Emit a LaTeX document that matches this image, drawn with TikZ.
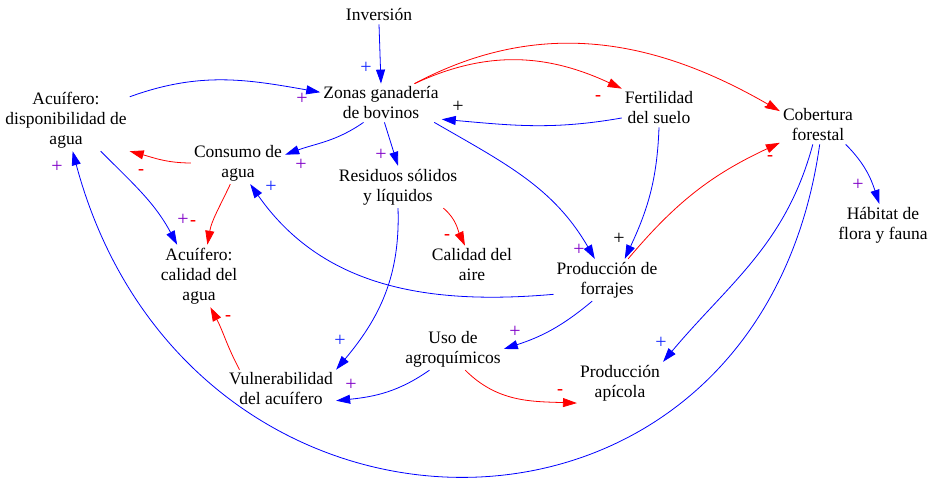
\documentclass[tikz,border=0pt]{standalone}
\usepackage{fontspec}
\setmainfont{Liberation Serif}
\usetikzlibrary{arrows.meta}
\definecolor{lnblue}{RGB}{0,0,255}
\definecolor{lnred}{RGB}{255,0,0}
\definecolor{plusv}{RGB}{128,0,200}
\definecolor{plusb}{RGB}{20,40,255}
\begin{document}
\begin{tikzpicture}[x=1pt,y=1pt,
  var/.style={font=\fontsize{17.5}{20}\selectfont, align=center, inner sep=3pt, text=black},
  lk/.style={line width=0.8pt, -{Triangle[length=14pt,width=9pt]}},
  pl/.style={lk, color=lnblue},
  mi/.style={lk, color=lnred},
  sg/.style={font=\fontsize{20}{22}\selectfont, inner sep=0pt},
  sgb/.style={sg, text=plusb},
  sgv/.style={sg, text=plusv},
  sgk/.style={sg, text=black},
  sgm/.style={sg, text=lnred, font=\fontsize{18}{20}\selectfont\bfseries},
]
\fill[white] (0,0) rectangle (940,494);
\useasboundingbox (0,0) rectangle (940,494);

% variables
\node[var] (inv) at (379,479) {Inversión};
\node[var] (zonas) at (381,391) {Zonas ganadería\\de bovinos};
\node[var] (acd) at (66,374) {Acuífero:\\disponibilidad de\\agua};
\node[var] (cons) at (238,331) {Consumo de\\agua};
\node[var] (res) at (398,307) {Residuos sólidos\\y líquidos};
\node[var] (fert) at (659,386) {Fertilidad\\del suelo};
\node[var] (cob) at (818,369) {Cobertura\\forestal};
\node[var] (hab) at (883,269) {Hábitat de\\flora y fauna};
\node[var] (acal) at (199,218) {Acuífero:\\calidad del\\agua};
\node[var] (air) at (472,229) {Calidad del\\aire};
\node[var] (prodf) at (607,214) {Producción de\\forrajes};
\node[var] (uso) at (453,145) {Uso de\\agroquímicos};
\node[var] (apic) at (620,111) {Producción\\apícola};
\node[var] (vul) at (281,105) {Vulnerabilidad\\del acuífero};

% links
\draw[pl] (inv.south) -- (zonas.north);
\draw[pl] (acd.20) to[out=20, in=170] (zonas.170);
\draw[mi] (zonas.30) to[out=25, in=155] (fert.north west);
\draw[mi] (zonas.30) to[out=28, in=150] (cob.160);
\draw[pl] (fert.195) to[out=190, in=-5] (zonas.345);
\draw[pl] (zonas.340) to[out=-30, in=120] (prodf.120);
\draw[pl] (fert.south) to[out=-92, in=65] (prodf.50);
\draw[mi] (prodf.45) to[out=50, in=-155] (cob.205);
\draw[pl] (zonas.228) to[out=-145, in=20] (cons.10);
\draw[pl] (zonas.280) -- (res.north);
\draw[mi] (cons.west) to[out=180, in=-15] (acd.south east);
\draw[mi] (cons.250) to[out=-115, in=80] (acal.75);
\draw[pl] (acd.318) to[out=-45, in=118] (acal.125);
\draw[pl] (prodf.195) to[out=185, in=-55] (cons.300);
\draw[mi] (res.335) to[out=-40, in=115] (air.110);
\draw[pl] (res.south) to[out=-88, in=50] (vul.north east);
\draw[pl] (prodf.235) to[out=-140, in=18] (uso.east);
\draw[pl] (uso.222) to[out=-145, in=6] (vul.348);
\draw[mi] (uso.300) to[out=-45, in=178] (apic.205);
\draw[mi] (vul.155) to[out=118, in=-62] (acal.290);
\draw[pl] (cob.325) to[out=-45, in=108] (hab.100);
\draw[pl] (cob.255) to[out=-105, in=50] (apic.north east);
\draw[pl] (cob.275) .. controls +(-98:447) and +(-75:447) .. (acd.282);

% polarities
\node[sgb] (p1) at (366,426) {+};
\node[sgv] (p2) at (302,395) {+};
\node[sgm] (p3) at (598,396) {-};
\node[sgm] (p4) at (767,385) {-};
\node[sgk] (p5) at (458,387) {+};
\node[sgv] (p6) at (579,244) {+};
\node[sgk] (p7) at (619,255) {+};
\node[sgm] (p8) at (770,336) {-};
\node[sgv] (p9) at (301,329) {+};
\node[sgv] (p10) at (381,339) {+};
\node[sgm] (p11) at (141,322) {-};
\node[sgm] (p12) at (193,271) {-};
\node[sgv] (p13) at (183,274) {+};
\node[sgb] (p14) at (271,307) {+};
\node[sgm] (p15) at (447,257) {-};
\node[sgb] (p16) at (340,153) {+};
\node[sgv] (p17) at (515,162) {+};
\node[sgv] (p18) at (351,109) {+};
\node[sgm] (p19) at (560,102) {-};
\node[sgm] (p20) at (228,176) {-};
\node[sgv] (p21) at (858,309) {+};
\node[sgb] (p22) at (661,151) {+};
\node[sgv] (p23) at (57,327) {+};
\end{tikzpicture}
\end{document}
